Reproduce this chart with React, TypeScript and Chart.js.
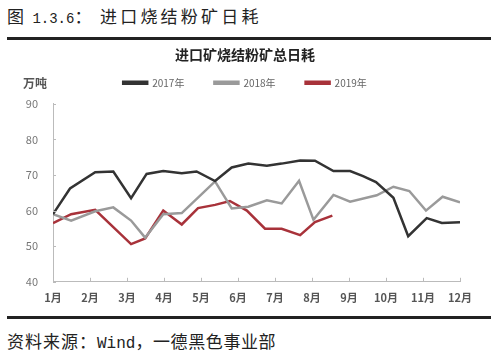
import React, { useEffect, useRef } from "react";
import { Chart, registerables } from "chart.js";

Chart.register(...registerables);

const monthTicks = [1, 2, 3, 4, 5, 6, 7, 8, 9, 10, 11, 12];

// x positions are in month units (1 = 1月 ... 12 = 12月)
const x2017 = [1.0, 1.46, 2.14, 2.63, 3.11, 3.53, 3.98, 4.48, 4.88, 5.38, 5.83, 6.28, 6.78, 7.18, 7.68, 8.08, 8.58, 9.03, 9.38, 9.73, 10.2, 10.6, 11.1, 11.51, 12.0];
const v2017 = [59.0, 66.2, 70.8, 71.0, 63.5, 70.3, 71.1, 70.5, 71.0, 68.3, 72.1, 73.2, 72.6, 73.2, 74.1, 74.0, 71.1, 71.1, 69.7, 68.0, 63.6, 52.8, 57.9, 56.5, 56.7];

const x2018 = [1.0, 1.49, 2.14, 2.63, 3.11, 3.49, 3.98, 4.48, 5.38, 5.83, 6.28, 6.78, 7.18, 7.65, 8.04, 8.58, 9.03, 9.75, 10.2, 10.63, 11.08, 11.53, 12.0];
const v2018 = [59.0, 57.2, 59.8, 60.9, 57.2, 52.4, 59.0, 59.3, 68.2, 60.6, 61.1, 62.9, 62.0, 68.4, 57.4, 64.4, 62.5, 64.3, 66.7, 65.5, 60.0, 63.9, 62.3];

const x2019 = [1.0, 1.49, 2.14, 3.11, 3.49, 3.98, 4.48, 4.92, 5.38, 5.78, 6.24, 6.73, 7.18, 7.68, 8.08, 8.55];
const v2019 = [56.5, 59.0, 60.2, 50.6, 52.2, 60.0, 56.1, 60.7, 61.6, 62.7, 60.0, 54.9, 54.9, 53.1, 56.8, 58.6];

const seriesNames = ["2017年", "2018年", "2019年"];
const yTicks = [40, 50, 60, 70, 80, 90];

const zip = (xs: number[], ys: number[]) => xs.map((x, i) => ({ x, y: ys[i] }));

const innerTicks = {
  id: "innerTicks",
  afterDraw(chart: any) {
    const { ctx, scales } = chart;
    const xs = scales.x;
    const y0 = chart.chartArea.bottom;
    ctx.save();
    ctx.strokeStyle = "#bbbbbb";
    ctx.lineWidth = 1;
    monthTicks.forEach((m) => {
      const px = Math.round(xs.getPixelForValue(m)) + 0.5;
      ctx.beginPath();
      ctx.moveTo(px, y0);
      ctx.lineTo(px, y0 - 4);
      ctx.stroke();
    });
    const ys = scales.y;
    const x0 = chart.chartArea.left;
    yTicks.forEach((v) => {
      const py = Math.round(ys.getPixelForValue(v)) + 0.5;
      ctx.beginPath();
      ctx.moveTo(x0, py);
      ctx.lineTo(x0 + 3, py);
      ctx.stroke();
    });
    ctx.restore();
  },
};

function LineChart() {
  const ref = useRef<HTMLCanvasElement | null>(null);
  useEffect(() => {
    if (!ref.current) return;
    const colors = ["#333333", "#9a9a9a", "#a8323a"];
    const chart = new Chart(ref.current, {
      type: "line",
      data: {
        datasets: [
          { label: seriesNames[0], data: zip(x2017, v2017) },
          { label: seriesNames[1], data: zip(x2018, v2018) },
          { label: seriesNames[2], data: zip(x2019, v2019) },
        ].map((d, i) => ({
          ...d,
          borderColor: colors[i],
          backgroundColor: colors[i],
          borderWidth: 2.5,
          pointRadius: 0,
          tension: 0,
        })),
      },
      options: {
        animation: false,
        responsive: false,
        maintainAspectRatio: false,
        layout: { padding: { left: 0, right: 10, top: 0, bottom: 1 } },
        plugins: {
          title: {
            display: true,
            text: "进口矿烧结粉矿总日耗",
            color: "#222",
            font: { family: "'Noto Sans CJK SC'", size: 14, weight: "bold" },
            padding: { top: 6.5, bottom: -15.5 },
          },
          subtitle: {
            display: true,
            text: "",
            weight: 500,
            font: { size: 1 },
            padding: { top: 4.8, bottom: 0 },
          },
          legend: {
            display: true,
            labels: {
              boxWidth: 24,
              boxHeight: 2,
              color: "#666",
              padding: 30,
              font: { family: "'Noto Sans CJK SC'", size: 10 },
            },
          },
          tooltip: { enabled: false },
        },
        scales: {
          x: {
            type: "linear",
            min: 1,
            max: 12,
            grid: { display: false, drawTicks: false },
            border: { display: true, color: "#bbbbbb" },
            afterBuildTicks: (s: any) => {
              s.ticks = monthTicks.map((v) => ({ value: v }));
            },
            afterFit: (s: any) => {
              s.paddingRight = 40;
            },
            ticks: {
              color: "#555",
              padding: 9,
              maxRotation: 0,
              autoSkip: false,
              font: { family: "'Noto Sans CJK SC'", size: 11, weight: "bold" },
              callback: (v: any) => `${v}月`,
            },
          },
          y: {
            min: 40,
            max: 90,
            grid: { display: false, drawTicks: false },
            border: { display: true, color: "#bbbbbb" },
            afterBuildTicks: (s: any) => {
              s.ticks = yTicks.map((v) => ({ value: v }));
            },
            afterFit: (s: any) => {
              s.width = 53;
            },
            ticks: {
              color: "#777",
              padding: 15,
              font: { family: "'Noto Sans CJK SC'", size: 11 },
            },
          },
        },
      },
      plugins: [innerTicks],
    });
    return () => chart.destroy();
  }, []);
  return <canvas ref={ref} width={500} height={274} style={{ display: "block" }} />;
}

export default function App() {
  const cjk = "'Noto Sans CJK SC', sans-serif";
  const mono = "'Liberation Mono', 'DejaVu Sans Mono', monospace";
  return (
    <div style={{ position: "absolute", left: 0, top: 0, width: 500, height: 359, background: "#fff", overflow: "hidden" }}>
      <div style={{ position: "absolute", left: 7, top: 3, height: 26, lineHeight: "26px", color: "#222", whiteSpace: "pre" }}>
        <span style={{ fontFamily: cjk, fontSize: 17 }}>图</span>
        <span style={{ fontFamily: mono, fontSize: 14 }}> 1.3.6</span>
        <span style={{ fontFamily: cjk, fontSize: 17 }}>：</span>
      </div>
      <div style={{ position: "absolute", left: 100, top: 3, height: 26, lineHeight: "26px", fontFamily: cjk, fontSize: 17, letterSpacing: 3.2, color: "#222", whiteSpace: "pre" }}>
        进口烧结粉矿日耗
      </div>
      <div style={{ position: "absolute", left: 7, top: 37, width: 484, height: 3, background: "#222" }} />
      <div style={{ position: "absolute", left: 0, top: 40 }}>
        <LineChart />
      </div>
      <div style={{ position: "absolute", left: 23, top: 74, fontFamily: cjk, fontSize: 12, fontWeight: "bold", color: "#555" }}>
        万吨
      </div>
      <div style={{ position: "absolute", left: 7, top: 316, width: 484, height: 3, background: "#222" }} />
      <div style={{ position: "absolute", left: 7, top: 329, height: 24, lineHeight: "24px", color: "#222", whiteSpace: "pre" }}>
        <span style={{ fontFamily: cjk, fontSize: 17, letterSpacing: 1 }}>资料来源：</span>
        <span style={{ fontFamily: mono, fontSize: 16 }}>Wind</span>
        <span style={{ fontFamily: cjk, fontSize: 17, letterSpacing: 0.6 }}>，一德黑色事业部</span>
      </div>
    </div>
  );
}
